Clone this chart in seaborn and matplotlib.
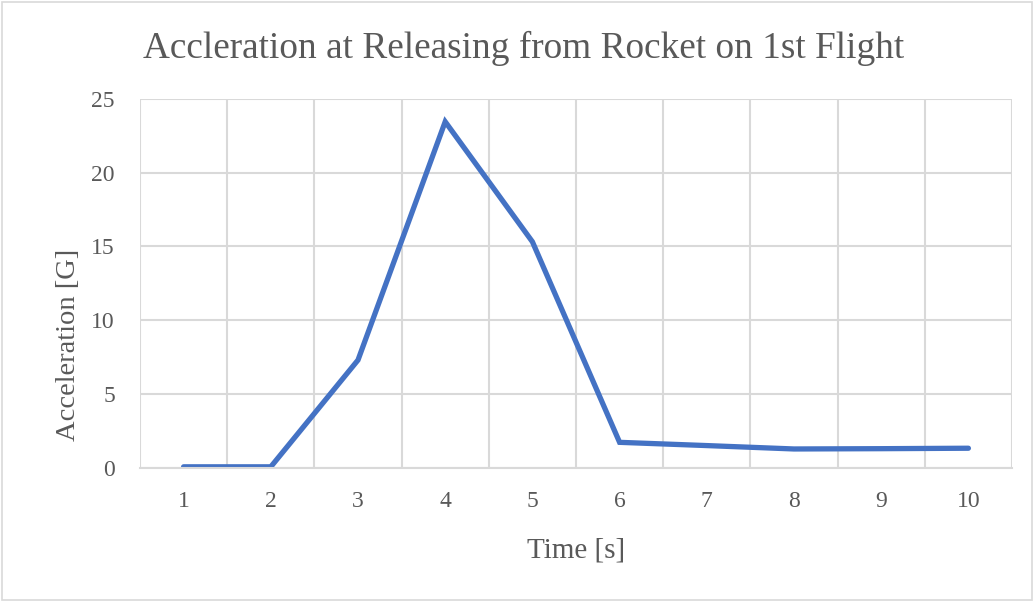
import matplotlib
matplotlib.use("Agg")
import matplotlib.pyplot as plt
from matplotlib.patches import Rectangle
from matplotlib.ticker import FixedLocator
import seaborn as sns
import pandas as pd

# Flight data: time since release and measured acceleration
time_s = [1, 2, 3, 4, 5, 6, 7, 8, 9, 10]
accel_g = [0.06, 0.06, 7.3, 23.46, 15.32, 1.72, 1.5, 1.27, 1.29, 1.32]
y_ticks = [0, 5, 10, 15, 20, 25]

title = "Accleration at Releasing from Rocket on 1st Flight"
x_label = "Time [s]"
y_label = "Acceleration [G]"

sns.set_theme(style="white")
plt.rcParams["font.family"] = ["Liberation Serif", "DejaVu Serif"]

text_color = "#595959"
grid_color = "#D9D9D9"
line_color = "#4472C4"

fig = plt.figure(figsize=(10.33, 6.01), dpi=100)
ax = fig.add_axes([140 / 1033, 1 - 467.7 / 601, 872 / 1033, (467.7 - 99) / 601])

df = pd.DataFrame({"Time": time_s, "Accel": accel_g})
sns.lineplot(data=df, x="Time", y="Accel", ax=ax, color=line_color,
             linewidth=3.8, solid_capstyle="round", solid_joinstyle="miter")

ax.set_xlim(0.5, 10.5)
ax.set_ylim(0, 25)
ax.set_xticks(time_s)
ax.set_xticklabels([str(t) for t in time_s])
ax.set_yticks(y_ticks)
ax.xaxis.set_minor_locator(FixedLocator([t + 0.5 for t in range(0, 11)]))

ax.grid(False)
ax.grid(True, axis="y", which="major", color=grid_color, linewidth=1.5)
ax.grid(True, axis="x", which="minor", color=grid_color, linewidth=1.5)
ax.set_axisbelow(True)

for side in ["top", "right", "left"]:
    ax.spines[side].set_visible(False)
ax.spines["bottom"].set_color(grid_color)
ax.spines["bottom"].set_linewidth(1.5)

ax.tick_params(axis="both", which="both", length=0, labelsize=17, labelcolor=text_color)
ax.tick_params(axis="y", pad=18)
ax.tick_params(axis="x", pad=17)

ax.set_xlabel(x_label, fontsize=21, color=text_color)
ax.set_ylabel(y_label, fontsize=20.5, color=text_color)
ax.xaxis.set_label_coords(0.5, -0.19)
ax.yaxis.set_label_coords(-0.068, 0.333)

fig.text(524 / 1033, 1 - 48 / 601, title, ha="center", va="center",
         fontsize=26.8, color=text_color)

fig.patches.append(Rectangle((1.5 / 1033, 1.5 / 601), 1 - 3 / 1033, 1 - 3 / 601,
                             transform=fig.transFigure, fill=False,
                             edgecolor=grid_color, linewidth=1.2))

fig.savefig("out.png", dpi=100, facecolor="white")
